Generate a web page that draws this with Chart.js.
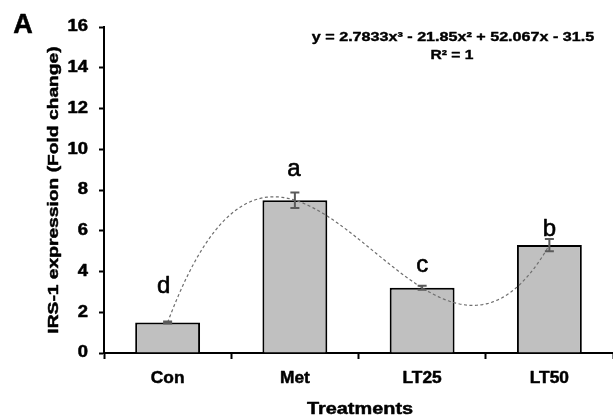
<!DOCTYPE html>
<html>
<head>
<meta charset="utf-8">
<script src="https://cdn.jsdelivr.net/npm/chart.js@4.4.1/dist/chart.umd.min.js"></script>
<style>
  html, body { margin: 0; padding: 0; background: #fff; }
  #wrap { width: 613px; height: 416px; position: relative; }
</style>
</head>
<body>
<div id="wrap"><canvas id="c" width="613" height="416"></canvas></div>
<script>
// Treatments and mean IRS-1 fold change
const categories = ['Con', 'Met', 'LT25', 'LT50'];
const foldChange = [1.5, 7.5, 3.2, 5.3];
const errorSD = [0.05, 0.38, 0.1, 0.3];
const groupLetters = ['d', 'a', 'c', 'b'];
// Cubic trendline: y = c3 x^3 + c2 x^2 + c1 x + c0, with x = 1..4 for the treatments
const trendCoeffs = [2.7833, -21.85, 52.067, -31.5];
const yTicks = [0, 2, 4, 6, 8, 10, 12, 14, 16];

const FONT = '"Liberation Sans", Arial, sans-serif';

// Text drawn with a horizontal stretch (along the text direction), optionally thickened
function wideText(ctx, text, x, y, o) {
  ctx.save();
  ctx.translate(x, y);
  if (o.rot) ctx.rotate(o.rot);
  ctx.scale(o.sx || 1, 1);
  ctx.font = o.font;
  ctx.fillStyle = '#000';
  ctx.textAlign = o.align || 'center';
  ctx.textBaseline = o.baseline || 'middle';
  ctx.fillText(text, 0, 0);
  if (o.heavy) {
    ctx.strokeStyle = '#000';
    ctx.lineWidth = o.heavy;
    ctx.lineJoin = 'round';
    ctx.strokeText(text, 0, 0);
  }
  ctx.restore();
}

const overlay = {
  id: 'overlay',
  afterDatasetsDraw(chart, args, opts) {
    const ctx = chart.ctx;
    const xs = chart.scales.x, ys = chart.scales.y;
    const area = chart.chartArea;

    // trendline, dashed
    ctx.save();
    ctx.beginPath();
    ctx.rect(area.left, area.top, area.right - area.left, area.bottom - area.top);
    ctx.clip();
    ctx.strokeStyle = '#6e6e6e';
    ctx.lineWidth = 1.2;
    ctx.setLineDash([3, 2.5]);
    ctx.beginPath();
    const n = 200;
    for (let i = 0; i <= n; i++) {
      const x = 1 + 3 * i / n;
      const y = ((trendCoeffs[0] * x + trendCoeffs[1]) * x + trendCoeffs[2]) * x + trendCoeffs[3];
      const px = xs.getPixelForValue(x - 1);
      const py = ys.getPixelForValue(y);
      if (i === 0) ctx.moveTo(px, py); else ctx.lineTo(px, py);
    }
    ctx.stroke();
    ctx.restore();

    // error bars
    ctx.save();
    ctx.strokeStyle = '#5a5a5a';
    ctx.lineWidth = 2;
    foldChange.forEach((v, i) => {
      const px = xs.getPixelForValue(i);
      const top = ys.getPixelForValue(v + errorSD[i]);
      const bot = ys.getPixelForValue(v - errorSD[i]);
      ctx.beginPath();
      ctx.moveTo(px, top); ctx.lineTo(px, bot);
      ctx.moveTo(px - 4.5, top); ctx.lineTo(px + 4.5, top);
      ctx.moveTo(px - 4.5, bot); ctx.lineTo(px + 4.5, bot);
      ctx.stroke();
    });
    ctx.restore();

    // significance letters
    groupLetters.forEach((t, i) => {
      wideText(ctx, t, xs.getPixelForValue(i) + opts.letterDx[i], ys.getPixelForValue(opts.letterY[i]),
        { font: '24px ' + FONT, baseline: 'alphabetic', heavy: 0.6 });
    });
  },
  afterDraw(chart) {
    const ctx = chart.ctx;
    const xs = chart.scales.x, ys = chart.scales.y;
    const B = 'bold ';

    // y tick labels
    yTicks.forEach(v => {
      wideText(ctx, String(v), 88, ys.getPixelForValue(v), { font: B + '16px ' + FONT, sx: 1.15, align: 'right', heavy: 0.5 });
    });
    // x tick labels
    categories.forEach((c, i) => {
      wideText(ctx, c, xs.getPixelForValue(i), 378, { font: B + '17px ' + FONT, sx: 1.02, heavy: 0.5 });
    });
    // axis titles
    wideText(ctx, 'Treatments', 360, 409, { font: B + '17px ' + FONT, sx: 1.17, heavy: 0.5 });
    wideText(ctx, 'IRS-1 expression (Fold change)', 54, (chart.chartArea.top + chart.chartArea.bottom) / 2,
      { font: B + '15.5px ' + FONT, sx: 1.24, rot: -Math.PI / 2, heavy: 0.5 });
    // equation and R²
    wideText(ctx, 'y = 2.7833x³ - 21.85x² + 52.067x - 31.5', 453, 37, { font: B + '13px ' + FONT, sx: 1.24, heavy: 0.4 });
    wideText(ctx, 'R² = 1', 452, 55, { font: B + '13px ' + FONT, sx: 1.2, heavy: 0.4 });
    // panel letter
    wideText(ctx, 'A', 23, 26, { font: B + '27px ' + FONT, heavy: 0.6 });
  }
};

new Chart(document.getElementById('c'), {
  type: 'bar',
  data: {
    labels: categories,
    datasets: [{
      data: foldChange,
      backgroundColor: '#c0c0c0',
      borderColor: '#000',
      borderWidth: 2,
      borderSkipped: 'bottom',
      categoryPercentage: 1,
      barPercentage: 0.51
    }]
  },
  options: {
    responsive: false,
    animation: false,
    devicePixelRatio: 1,
    layout: { padding: { top: 27, right: 0, left: 0, bottom: 0 } },
    plugins: {
      legend: { display: false },
      tooltip: { enabled: false },
      overlay: { letterY: [2.93, 8.68, 3.99, 5.75], letterDx: [-4, -1, 0, 0] }
    },
    scales: {
      x: {
        grid: { display: true, offset: true, drawOnChartArea: false, tickLength: 6, tickColor: '#000', tickWidth: 2 },
        border: { color: '#000', width: 2 },
        ticks: { display: false },
        afterFit(s) { s.height = 63; }
      },
      y: {
        min: 0, max: 16,
        afterBuildTicks(s) { s.ticks = yTicks.map(v => ({ value: v })); },
        grid: { display: true, drawOnChartArea: false, tickLength: 5, tickColor: '#000', tickWidth: 2 },
        border: { color: '#000', width: 2 },
        ticks: { display: false },
        afterFit(s) { s.width = 104; }
      }
    }
  },
  plugins: [overlay]
});
</script>
</body>
</html>
